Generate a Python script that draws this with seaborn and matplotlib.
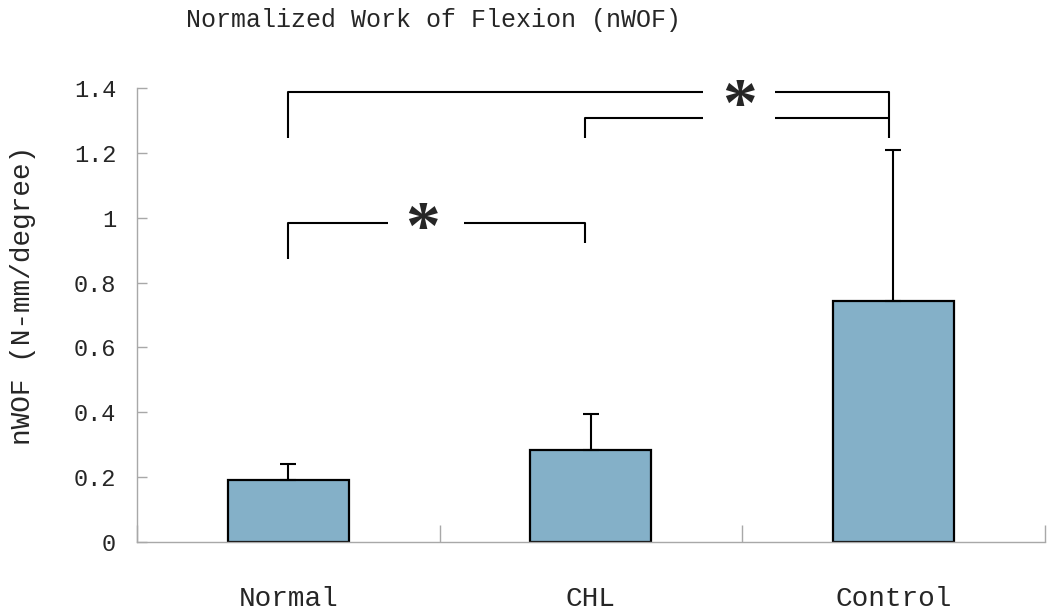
import matplotlib
matplotlib.use("Agg")
import matplotlib.pyplot as plt
import seaborn as sns
import numpy as np

groups = ["Normal", "CHL", "Control"]
means = [0.19, 0.285, 0.743]
sds = [0.05, 0.11, 0.467]
yticks = [0, 0.2, 0.4, 0.6, 0.8, 1.0, 1.2, 1.4]
ytick_labels = ["0", "0.2", "0.4", "0.6", "0.8", "1", "1.2", "1.4"]
title = "Normalized Work of Flexion (nWOF)"
ylabel = "nWOF (N-mm/degree)"

sns.set_style("white")
plt.rcParams["font.family"] = ["Liberation Mono", "DejaVu Sans Mono"]

fig = plt.figure(figsize=(10.5, 6.11), dpi=100)
ax = fig.add_axes([0.1305, 0.1129, 0.8645, 0.7430])

sns.barplot(x=groups, y=means, color="#84B0C8", saturation=1, width=0.4,
            edgecolor="black", linewidth=1.6, ax=ax, errorbar=None)
x = np.arange(len(groups))
ax.errorbar(x, means, yerr=[np.zeros(len(sds)), sds], fmt="none",
            ecolor="black", elinewidth=1.5, capsize=6, capthick=1.5, zorder=1)

ax.set_xlim(-0.5, 2.5)
ax.set_ylim(0, 1.4)
ax.set_yticks(yticks)
ax.set_yticklabels(ytick_labels, fontsize=17)
ax.set_xticks([-0.5, 0.5, 1.5, 2.5])
ax.set_xticklabels([])
ax.set_xticks(x, minor=True)
ax.set_xticklabels(groups, minor=True, fontsize=20)
ax.tick_params(axis="x", which="minor", bottom=True, length=0, pad=32)
ax.tick_params(axis="x", which="major", bottom=True, direction="in", length=12,
               color="#A8A8A8", width=1)
ax.tick_params(axis="y", left=True, direction="in", length=7, color="#A8A8A8",
               width=1, pad=15)
ax.set_xlabel("")
ax.set_ylabel(ylabel, fontsize=20, va="center")
ax.yaxis.set_label_coords(-0.1255, 0.543)
for s in ["top", "right"]:
    ax.spines[s].set_visible(False)
for s in ["left", "bottom"]:
    ax.spines[s].set_color("#A8A8A8")
    ax.spines[s].set_linewidth(1)

fig.text(0.413, 0.968, title, fontsize=18, ha="center", va="center")

lk = dict(color="black", lw=1.5, solid_capstyle="butt", clip_on=False)
# Normal vs Control
ax.plot([0, 0, 1.37], [1.246, 1.388, 1.388], **lk)
ax.plot([1.61, 1.985, 1.985], [1.388, 1.388, 1.246], **lk)
# CHL vs Control
ax.plot([0.98, 0.98, 1.37], [1.246, 1.307, 1.307], **lk)
ax.plot([1.61, 1.985], [1.307, 1.307], **lk)
# Normal vs CHL
ax.plot([0, 0, 0.33], [0.873, 0.985, 0.985], **lk)
ax.plot([0.58, 0.98, 0.98], [0.985, 0.985, 0.922], **lk)

ax.text(1.49, 1.335, "*", fontsize=50, fontweight="bold", ha="center", va="center",
        family="Liberation Serif")
ax.text(0.442, 0.955, "*", fontsize=50, fontweight="bold", ha="center", va="center",
        family="Liberation Serif")

fig.savefig("out.png", dpi=100)
